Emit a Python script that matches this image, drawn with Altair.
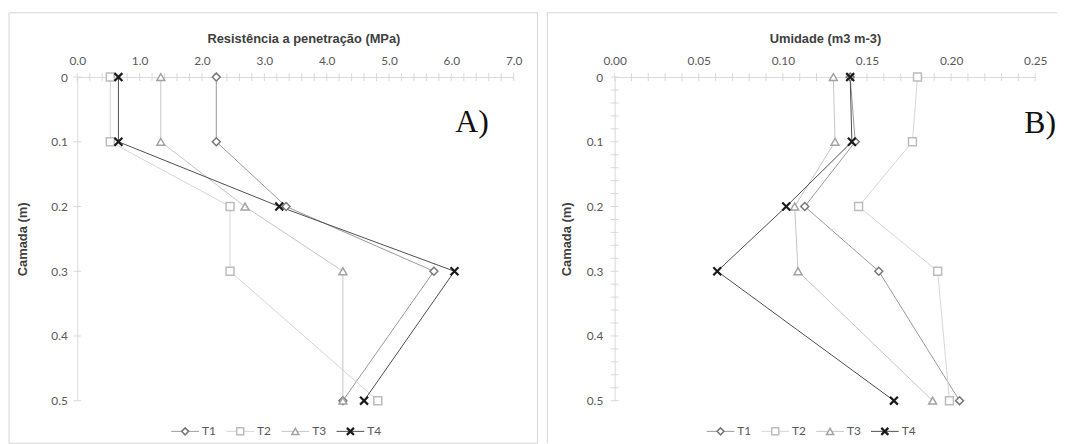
import altair as alt
import pandas as pd

# ---------------- data ----------------
depth = [0, 0.1, 0.2, 0.3, 0.5]
series = ["T1", "T2", "T3", "T4"]

res_T1 = [2.23, 2.23, 3.35, 5.72, 4.26]
res_T2 = [0.53, 0.53, 2.45, 2.45, 4.82]
res_T3 = [1.34, 1.34, 2.69, 4.26, 4.26]
res_T4 = [0.66, 0.66, 3.24, 6.05, 4.60]

umi_T1 = [0.140, 0.143, 0.113, 0.157, 0.205]
umi_T2 = [0.180, 0.177, 0.145, 0.192, 0.199]
umi_T3 = [0.130, 0.131, 0.107, 0.109, 0.189]
umi_T4 = [0.140, 0.141, 0.102, 0.061, 0.166]

res_labels = [0, 1, 2, 3, 4, 5, 6, 7]
res_minor = [round(i * 0.2, 1) for i in range(36)]
umi_labels = [0, 0.05, 0.10, 0.15, 0.20, 0.25]
umi_minor = [round(i * 0.01, 2) for i in range(26)]
depth_labels = [0, 0.1, 0.2, 0.3, 0.4, 0.5]
depth_minor = [round(i * 0.02, 2) for i in range(26)]

# ---------------- styles ----------------
LINE_COLORS = ["#999999", "#d6d6d6", "#c4c4c4", "#4d4d4d"]
MARK_COLORS = ["#777777", "#bcbcbc", "#a2a2a2", "#1a1a1a"]
X_PATH = "M-1,-1L1,1M-1,1L1,-1"
SHAPES = ["diamond", "square", "triangle-up", X_PATH]
AXIS_GRAY = "#d9d9d9"
H = 327


def long_df(vals):
    rows = []
    for s, v in zip(series, vals):
        for d, x in zip(depth, v):
            rows.append({"series": s, "depth": d, "value": x})
    return pd.DataFrame(rows)


def panel(df, W, xdom, xlabels, xminor, xfmt, xtitle, xtitle_dx, yminor, ylabpad,
          ytitle_x, letter, letter_x, letter_y, leg_range, border):
    xs = alt.Scale(domain=xdom, nice=False, zero=False)
    ys = alt.Scale(domain=[0, 0.5], reverse=True, nice=False)
    shape_s = alt.Scale(domain=series, range=SHAPES)
    stroke_s = alt.Scale(domain=series, range=MARK_COLORS)
    color_s = alt.Scale(domain=series, range=LINE_COLORS)

    x_axis = alt.Axis(orient="top", values=xlabels, format=xfmt, title=xtitle,
                      labelFlush=False, labelOverlap=False, ticks=False, tickSize=0,
                      labelPadding=13, labelBaseline="alphabetic",
                      titleX=W / 2 + xtitle_dx, titleY=-35, titleBaseline="alphabetic")
    y_axis = alt.Axis(orient="left", values=depth_labels, format="~g", title="Camada (m)",
                      ticks=False, tickSize=0, labelPadding=ylabpad,
                      labelFlush=False, labelOverlap=False,
                      titleX=ytitle_x, titleY=H / 2, titleAngle=270,
                      titleBaseline="middle")

    X = lambda f: alt.X(f, scale=xs, axis=x_axis)
    Y = lambda f: alt.Y(f, scale=ys, axis=y_axis)

    base = alt.Chart(df)
    lines = base.mark_line(strokeWidth=1).encode(
        x=X("value:Q"), y=Y("depth:Q"),
        color=alt.Color("series:N", scale=color_s, legend=None),
        order=alt.Order("depth:Q"),
    )
    pts = base.transform_filter(alt.datum.series != "T4").mark_point(
        filled=True, fill="white", strokeWidth=1.5, size=64, opacity=1
    ).encode(
        x=X("value:Q"), y=Y("depth:Q"),
        shape=alt.Shape("series:N", scale=shape_s, legend=None),
        stroke=alt.Stroke("series:N", scale=stroke_s, legend=None),
    )
    pts_x = base.transform_filter(alt.datum.series == "T4").mark_point(
        filled=False, strokeWidth=2.2, size=64, opacity=1
    ).encode(
        x=X("value:Q"), y=Y("depth:Q"),
        shape=alt.Shape("series:N", scale=shape_s, legend=None),
        stroke=alt.Stroke("series:N", scale=stroke_s, legend=None),
    )
    xt = alt.Chart(pd.DataFrame({"value": xminor})).mark_rule(color=AXIS_GRAY).encode(
        x=X("value:Q"), y=alt.value(-4), y2=alt.value(4))
    yt = alt.Chart(pd.DataFrame({"depth": yminor})).mark_rule(color=AXIS_GRAY).encode(
        y=Y("depth:Q"), x=alt.value(-4), x2=alt.value(4))

    empty = alt.InlineData(values=[{}])
    bx0, bx1, by0, by1 = border
    if bx1 is None:
        b1 = alt.Chart(empty).mark_rule(color="#d6d6d6", strokeWidth=1).encode(
            x=alt.value(bx0), y=alt.value(by0), y2=alt.value(by1))
        b2 = alt.Chart(empty).mark_rule(color="#d6d6d6", strokeWidth=1).encode(
            x=alt.value(bx0), x2=alt.value(W + 22), y=alt.value(by0))
        borders = [b1, b2]
    else:
        borders = [alt.Chart(empty).mark_rect(fillOpacity=0, stroke="#d6d6d6", strokeWidth=1).encode(
            x=alt.value(bx0), x2=alt.value(bx1), y=alt.value(by0), y2=alt.value(by1))]

    inner = alt.layer(lines, xt, yt, pts, pts_x, *borders)

    leg_df = pd.DataFrame({"series": series})
    lx = alt.X("series:N", scale=alt.Scale(type="point", domain=series, range=leg_range, padding=0), axis=None)
    ly = alt.value(H + 31)
    leg_line = alt.Chart(leg_df).mark_rule(strokeWidth=1, xOffset=-14, x2Offset=14).encode(
        x=lx, x2="series:N", y=ly,
        color=alt.Color("series:N", scale=color_s, legend=None))
    leg_pts = alt.Chart(leg_df).transform_filter(alt.datum.series != "T4").mark_point(
        filled=True, fill="white", strokeWidth=1.5, size=50, opacity=1).encode(
        x=lx, y=ly,
        shape=alt.Shape("series:N", scale=shape_s, legend=None),
        stroke=alt.Stroke("series:N", scale=stroke_s, legend=None))
    leg_px = alt.Chart(leg_df).transform_filter(alt.datum.series == "T4").mark_point(
        filled=False, strokeWidth=2.2, size=50, opacity=1).encode(
        x=lx, y=ly,
        shape=alt.Shape("series:N", scale=shape_s, legend=None),
        stroke=alt.Stroke("series:N", scale=stroke_s, legend=None))
    leg_txt = alt.Chart(leg_df).mark_text(align="left", baseline="middle", dx=17,
                                          font="Lato", fontSize=12, color="#595959").encode(
        x=lx, y=ly, text="series:N")
    legend = alt.layer(leg_line, leg_pts, leg_px, leg_txt)

    lab = alt.Chart(empty).mark_text(text=letter, font="Liberation Serif", fontSize=32,
                                     align="left", baseline="alphabetic", color="#111111").encode(
        x=alt.value(letter_x), y=alt.value(letter_y))

    return alt.layer(inner, legend, lab).resolve_scale(x="independent").properties(width=W, height=H)


WA, WB = 441, 425
pA = panel(long_df([res_T1, res_T2, res_T3, res_T4]), WA, [0, 7], res_labels, res_minor, ".1f",
           "Resistência a penetração (MPa)", 8, depth_labels, 10, -55, "A)", 382, 55,
           [109, 276], (-69, 465, -65, 370))
pB = panel(long_df([umi_T1, umi_T2, umi_T3, umi_T4]), WB, [0, 0.25], umi_labels, umi_minor, ".2f",
           "Umidade (m3 m-3)", 0, depth_minor, 12, -49, "B)", 414, 57,
           [107, 273], (-68, None, -65, 370))

chart = alt.hconcat(pA, pB, spacing=8).properties(
    padding={"left": 0, "top": 1.5, "right": 0, "bottom": 0}
).configure_view(stroke=None).configure_axis(
    domainColor=AXIS_GRAY, domainWidth=1, grid=False,
    labelColor="#595959", labelFont="Lato", labelFontSize=12,
    titleFont="Liberation Sans", titleFontSize=13, titleFontWeight="bold", titleColor="#404040",
)

chart.save("out.html", embed_options={"renderer": "svg", "actions": False})
